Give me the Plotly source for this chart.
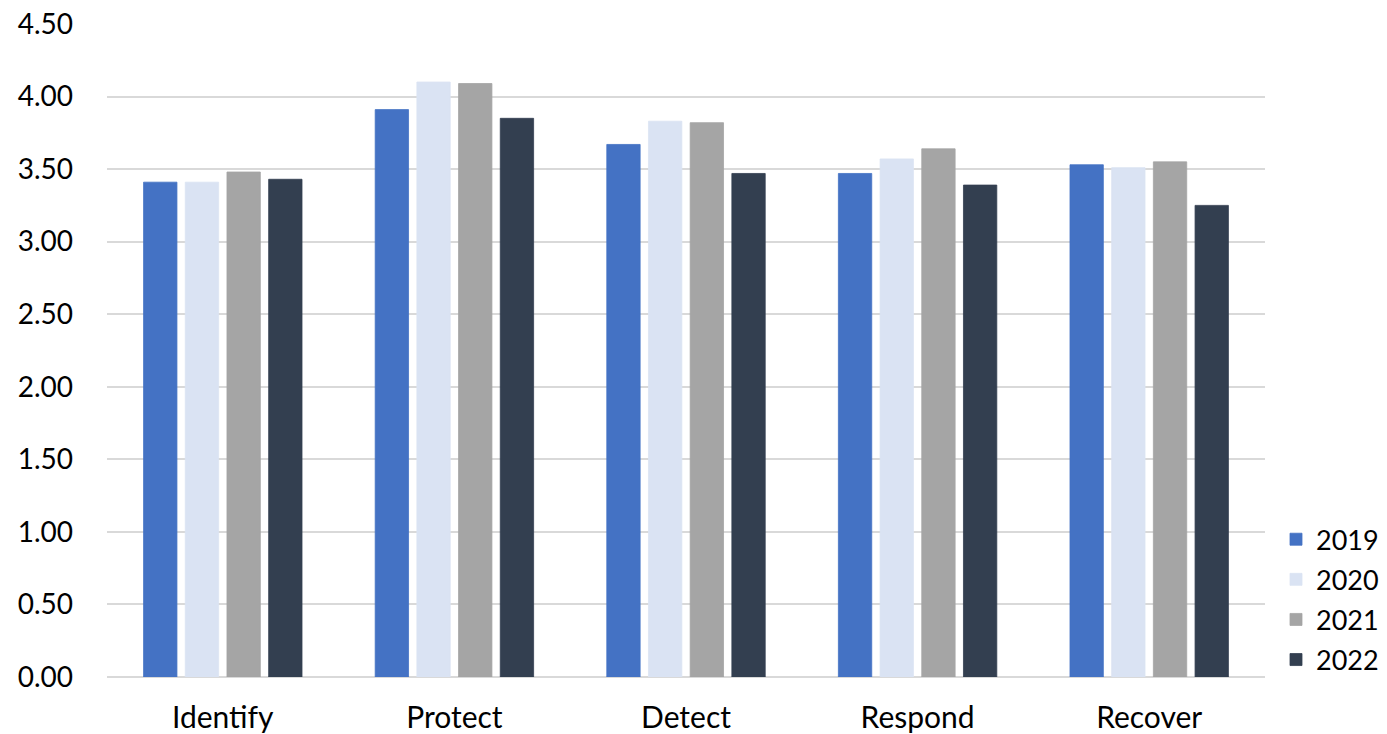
import plotly.graph_objects as go

categories = ["Identify", "Protect", "Detect", "Respond", "Recover"]
years = ["2019", "2020", "2021", "2022"]
values_2019 = [3.41, 3.91, 3.67, 3.47, 3.53]
values_2020 = [3.41, 4.10, 3.83, 3.57, 3.51]
values_2021 = [3.48, 4.09, 3.82, 3.64, 3.55]
values_2022 = [3.43, 3.85, 3.47, 3.39, 3.25]
series = [values_2019, values_2020, values_2021, values_2022]
colors = ["#4472C4", "#DAE3F3", "#A5A5A5", "#333F50"]
y_ticks = [0, 0.5, 1.0, 1.5, 2.0, 2.5, 3.0, 3.5, 4.0, 4.5]

fig = go.Figure()
for name, vals, col in zip(years, series, colors):
    fig.add_trace(go.Bar(
        x=categories, y=vals, name=name, legendgroup=name,
        marker=dict(color=col, line=dict(color=col, width=0.8)),
    ))

font = "Lato, Carlito, 'Open Sans', sans-serif"
fig.update_layout(
    width=1387, height=734,
    margin=dict(l=107, r=122, t=24, b=57, autoexpand=False),
    paper_bgcolor="white", plot_bgcolor="white",
    barmode="group", bargap=0.28, bargroupgap=0.2,
    font=dict(family=font, size=28, color="#000000"),
    legend=dict(x=1.0095, y=-0.011, xanchor="left", yanchor="bottom",
                font=dict(size=27, color="#000000"),
                tracegroupgap=2, itemwidth=30, bgcolor="rgba(0,0,0,0)"),
    showlegend=True,
)
fig.update_xaxes(
    showgrid=False, showline=False, ticks="",
    tickfont=dict(size=30), ticklabelstandoff=20,
)
fig.update_yaxes(
    range=[0, 4.5], tickvals=y_ticks, tickformat=".2f",
    showgrid=True, gridcolor="#D9D9D9", gridwidth=1.5,
    zeroline=True, zerolinecolor="#D9D9D9", zerolinewidth=1.5,
    showline=False, ticks="", tickfont=dict(size=28),
    ticklabelstandoff=33,
)
fig.write_html("out.html", config={"displayModeBar": False},
               post_script="document.body.style.margin='0';document.body.style.overflow='hidden';")
